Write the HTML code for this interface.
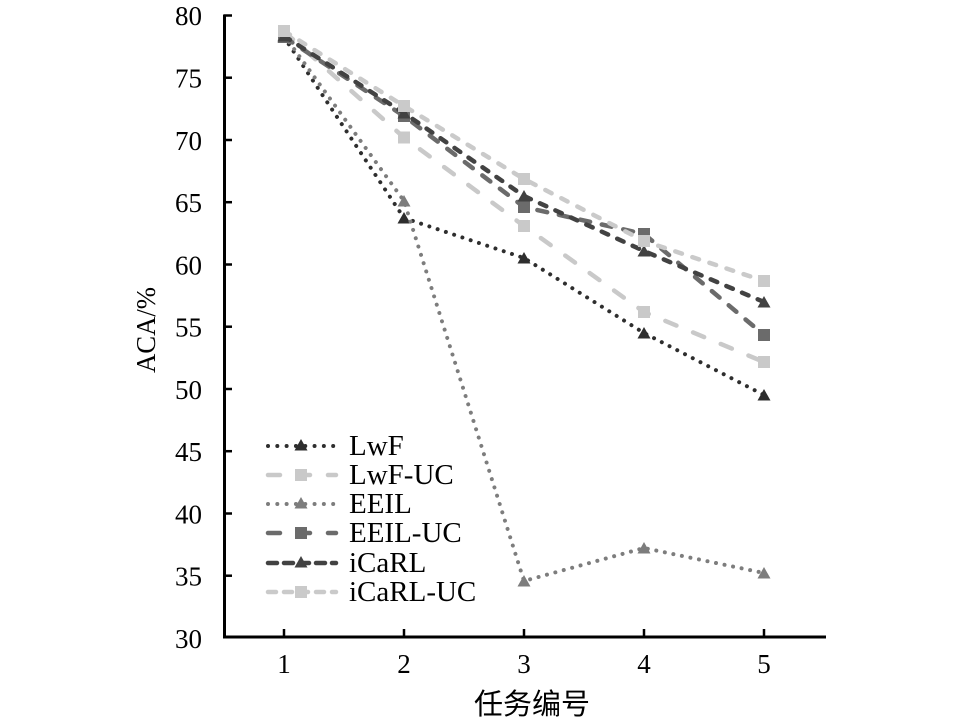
<!DOCTYPE html>
<html><head><meta charset="utf-8"><style>
html,body{margin:0;padding:0;background:#fff;}
svg{display:block;}
text{font-family:"Liberation Serif","DejaVu Serif",serif;fill:#000;}
.cjk{font-family:"Liberation Sans","Noto Sans CJK SC",sans-serif;}
</style></head><body>
<svg width="958" height="722" viewBox="0 0 958 722" xmlns="http://www.w3.org/2000/svg">
<defs>
<path id="tri" d="M0,-6 L6.5,5.5 L-6.5,5.5 Z"/>
<rect id="sq" x="-6" y="-6" width="12" height="12"/>
</defs>
<rect width="958" height="722" fill="#fff"/>

<!-- axes -->
<g stroke="#000" stroke-width="3" fill="none">
<line x1="224.5" y1="14.5" x2="224.5" y2="638"/>
<line x1="223" y1="637" x2="826" y2="637"/>
</g>
<g stroke="#000" stroke-width="2.5">
<line x1="224" y1="15.5" x2="232" y2="15.5"/>
<line x1="224" y1="77.7" x2="232" y2="77.7"/>
<line x1="224" y1="140" x2="232" y2="140"/>
<line x1="224" y1="202.2" x2="232" y2="202.2"/>
<line x1="224" y1="264.5" x2="232" y2="264.5"/>
<line x1="224" y1="326.7" x2="232" y2="326.7"/>
<line x1="224" y1="389" x2="232" y2="389"/>
<line x1="224" y1="451.2" x2="232" y2="451.2"/>
<line x1="224" y1="513.5" x2="232" y2="513.5"/>
<line x1="224" y1="575.7" x2="232" y2="575.7"/>
<line x1="284" y1="637" x2="284" y2="629"/>
<line x1="404" y1="637" x2="404" y2="629"/>
<line x1="524" y1="637" x2="524" y2="629"/>
<line x1="644" y1="637" x2="644" y2="629"/>
<line x1="764" y1="637" x2="764" y2="629"/>
</g>
<g font-size="27" text-anchor="end">
<text x="202" y="25">80</text>
<text x="202" y="87.5">75</text>
<text x="202" y="150">70</text>
<text x="202" y="212">65</text>
<text x="202" y="274.5">60</text>
<text x="202" y="336.5">55</text>
<text x="202" y="399">50</text>
<text x="202" y="461">45</text>
<text x="202" y="523.5">40</text>
<text x="202" y="585.5">35</text>
<text x="202" y="648">30</text>
</g>
<g font-size="27" text-anchor="middle">
<text x="284" y="673">1</text>
<text x="404" y="673">2</text>
<text x="524" y="673">3</text>
<text x="644" y="673">4</text>
<text x="764" y="673">5</text>
</g>
<text class="cjk" x="532" y="714" font-size="29" text-anchor="middle">任务编号</text>
<text transform="translate(155,330) rotate(-90)" font-size="27" text-anchor="middle" textLength="86" lengthAdjust="spacingAndGlyphs">ACA/%</text>

<!-- series -->
<polyline points="284,37 404,218 524,258 644,333 764,395" fill="none" stroke="#2e2e2e" stroke-width="4" stroke-linecap="round" stroke-dasharray="0.01 8.7"/>
<g fill="#2e2e2e">
<use href="#tri" x="284" y="37"/><use href="#tri" x="404" y="218"/><use href="#tri" x="524" y="258"/><use href="#tri" x="644" y="333"/><use href="#tri" x="764" y="395"/>
</g>
<polyline points="284,31.5 404,137.5 524,226 644,312 764,362" fill="none" stroke="#c9c9c9" stroke-width="4.5" stroke-linecap="round" stroke-dasharray="12 18"/>
<g fill="#c9c9c9">
<use href="#sq" x="284" y="31.5"/><use href="#sq" x="404" y="137.5"/><use href="#sq" x="524" y="226"/><use href="#sq" x="644" y="312"/><use href="#sq" x="764" y="362"/>
</g>
<polyline points="284,35 404,201 524,581 644,548 764,573" fill="none" stroke="#7d7d7d" stroke-width="4" stroke-linecap="round" stroke-dasharray="0.01 8.7"/>
<g fill="#7d7d7d">
<use href="#tri" x="284" y="35"/><use href="#tri" x="404" y="201"/><use href="#tri" x="524" y="581"/><use href="#tri" x="644" y="548"/><use href="#tri" x="764" y="573"/>
</g>
<polyline points="284,37 404,116 524,207 644,234 764,335" fill="none" stroke="#6b6b6b" stroke-width="4.5" stroke-linecap="round" stroke-dasharray="10 12"/>
<g fill="#6b6b6b">
<use href="#sq" x="284" y="37"/><use href="#sq" x="404" y="116"/><use href="#sq" x="524" y="207"/><use href="#sq" x="644" y="234"/><use href="#sq" x="764" y="335"/>
</g>
<polyline points="284,36 404,113 524,196 644,251 764,302" fill="none" stroke="#424242" stroke-width="4.5" stroke-linecap="round" stroke-dasharray="7 10"/>
<g fill="#424242">
<use href="#tri" x="284" y="36"/><use href="#tri" x="404" y="113"/><use href="#tri" x="524" y="196"/><use href="#tri" x="644" y="251"/><use href="#tri" x="764" y="302"/>
</g>
<polyline points="284,31 404,106 524,179 644,241 764,281" fill="none" stroke="#cacaca" stroke-width="4.5" stroke-linecap="round" stroke-dasharray="7 11"/>
<g fill="#cacaca">
<use href="#sq" x="284" y="31"/><use href="#sq" x="404" y="106"/><use href="#sq" x="524" y="179"/><use href="#sq" x="644" y="241"/><use href="#sq" x="764" y="281"/>
</g>

<!-- legend -->
<g fill="none" stroke-linecap="round">
<line x1="268" y1="446" x2="334" y2="446" stroke="#2e2e2e" stroke-width="4" stroke-dasharray="0.01 9.3"/>
<line x1="268" y1="475" x2="336" y2="475" stroke="#c9c9c9" stroke-width="4.5" stroke-dasharray="12 18"/>
<line x1="268" y1="504" x2="334" y2="504" stroke="#7d7d7d" stroke-width="4" stroke-dasharray="0.01 9.3"/>
<line x1="268" y1="533" x2="336" y2="533" stroke="#6b6b6b" stroke-width="4.5" stroke-dasharray="12 18"/>
<line x1="268" y1="563" x2="336" y2="563" stroke="#424242" stroke-width="4.5" stroke-dasharray="9 7"/>
<line x1="268" y1="592" x2="336" y2="592" stroke="#cacaca" stroke-width="4.5" stroke-dasharray="8 8"/>
</g>
<use href="#tri" x="301" y="445" fill="#2e2e2e"/>
<use href="#sq" x="301" y="475" fill="#c9c9c9"/>
<use href="#tri" x="301" y="503" fill="#7d7d7d"/>
<use href="#sq" x="301" y="533" fill="#6b6b6b"/>
<use href="#tri" x="301" y="562" fill="#424242"/>
<use href="#sq" x="301" y="592" fill="#cacaca"/>
<g font-size="29">
<text x="349" y="455">LwF</text>
<text x="349" y="484">LwF-UC</text>
<text x="349" y="513">EEIL</text>
<text x="349" y="542">EEIL-UC</text>
<text x="349" y="572">iCaRL</text>
<text x="349" y="601">iCaRL-UC</text>
</g>
</svg>
</body></html>
